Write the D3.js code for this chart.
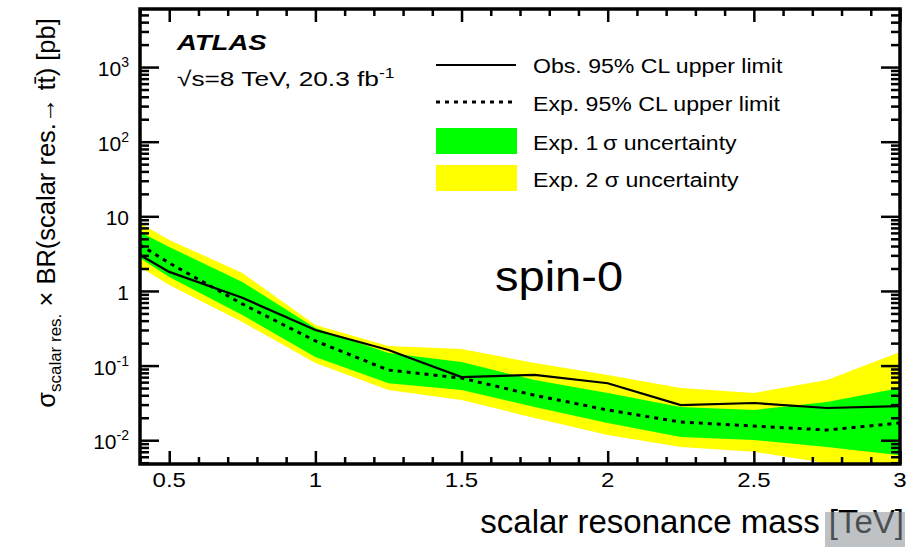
<!DOCTYPE html>
<html>
  <head>
    <meta charset="utf-8">
    <title>ATLAS spin-0 limit</title>
    <script src="https://cdnjs.cloudflare.com/ajax/libs/d3/7.8.5/d3.min.js"></script>
    <style>
      body { margin: 0; background: #fff; }
      text { font-family: "Liberation Sans", Arial, sans-serif; fill: #000; }
    </style>
  </head>
  <body>
    <script>
      // resonance mass points [TeV]
      var mass = [0.4, 0.5, 0.75, 1.0, 1.25, 1.5, 1.75, 2.0, 2.25, 2.5, 2.75, 3.0];
      // 95% CL upper limits [pb]
      var obsLimit = [3.04, 1.80, 0.81, 0.30, 0.162, 0.070, 0.075, 0.058, 0.0296, 0.0315, 0.027, 0.0287];
      var expLimit = [4.14, 2.37, 0.67, 0.214, 0.087, 0.068, 0.040, 0.0254, 0.0175, 0.0155, 0.0137, 0.017];
      // expected bands
      var exp1Up   = [6.18, 3.89, 1.32, 0.319, 0.148, 0.112, 0.064, 0.043, 0.0279, 0.0254, 0.0325, 0.050];
      var exp1Down = [2.77, 1.54, 0.477, 0.130, 0.058, 0.047, 0.0279, 0.017, 0.011, 0.0101, 0.0081, 0.0063];
      var exp2Up   = [8.16, 4.83, 1.74, 0.35, 0.183, 0.167, 0.108, 0.075, 0.050, 0.043, 0.064, 0.152];
      var exp2Down = [2.10, 1.20, 0.384, 0.108, 0.047, 0.0346, 0.0199, 0.0117, 0.0081, 0.0070, 0.0049, 0.0034];

      var xMajor = [0.5, 1, 1.5, 2, 2.5, 3];
      var xMajorLabels = ["0.5", "1", "1.5", "2", "2.5", "3"];
      var yMajor = [0.01, 0.1, 1, 10, 100, 1000];
      var yMajorLabels = [["10", "-2"], ["10", "-1"], ["1", ""], ["10", ""], ["10", "2"], ["10", "3"]];

      var legendItems = [
        {label: "Obs. 95% CL upper limit", kind: "obs"},
        {label: "Exp. 95% CL upper limit", kind: "exp"},
        {label: "Exp. 1\u2009\u03c3 uncertainty", kind: "band1"},
        {label: "Exp. 2 \u03c3 uncertainty", kind: "band2"}
      ];

      var W = 914, H = 547;
      var L = 140, R = 900, T = 9, B = 464;

      var svg = d3.select("body").append("svg")
        .attr("width", W)
        .attr("height", H);

      var x = d3.scaleLinear().domain([0.4, 3]).range([L, R]);
      var y = d3.scaleLog().domain([0.0048, 6000]).range([B, T]);

      svg.append("clipPath").attr("id", "plotclip")
        .append("rect").attr("x", L).attr("y", T).attr("width", R - L).attr("height", B - T);

      var idx = d3.range(mass.length);
      var plot = svg.append("g").attr("clip-path", "url(#plotclip)");

      function band(up, down){
        return d3.area()
          .x(function (i){ return x(mass[i]); })
          .y0(function (i){ return y(down[i]); })
          .y1(function (i){ return y(up[i]); })(idx);
      }

      plot.append("path").attr("d", band(exp2Up, exp2Down)).attr("fill", "#ffff00");
      plot.append("path").attr("d", band(exp1Up, exp1Down)).attr("fill", "#00ff00");

      function curve(vals){
        return d3.line()
          .x(function (i){ return x(mass[i]); })
          .y(function (i){ return y(vals[i]); })(idx);
      }

      plot.append("path").attr("d", curve(expLimit))
        .attr("fill", "none").attr("stroke", "#000")
        .attr("stroke-width", 3).attr("stroke-dasharray", "4,5");
      plot.append("path").attr("d", curve(obsLimit))
        .attr("fill", "none").attr("stroke", "#000").attr("stroke-width", 2.2);

      // minor tick values
      var xMinor = d3.range(4, 31).map(function (d){ return d / 10; })
        .filter(function (d){ return xMajor.indexOf(d) < 0; });
      var yMinor = [];
      for (var e = -3; e <= 3; e++) {
        for (var k = 2; k <= 9; k++) {
          var v = k * Math.pow(10, e);
          if (v > 0.0048 && v < 6000) yMinor.push(v);
        }
      }

      function addAxis(axis, tx, ty){
        var g = svg.append("g").attr("transform", "translate(" + tx + "," + ty + ")").call(axis);
        g.selectAll("path.domain").remove();
        g.selectAll("line").attr("stroke", "#000").attr("stroke-width", 2.5);
        g.selectAll("text").remove();
        return g;
      }

      // ticks pointing inward on all four sides
      addAxis(d3.axisTop(x).tickValues(xMajor).tickSize(13), 0, B);
      addAxis(d3.axisTop(x).tickValues(xMinor).tickSize(7), 0, B);
      addAxis(d3.axisBottom(x).tickValues(xMajor).tickSize(13), 0, T);
      addAxis(d3.axisBottom(x).tickValues(xMinor).tickSize(7), 0, T);
      addAxis(d3.axisRight(y).tickValues(yMajor).tickSize(19), L, 0);
      addAxis(d3.axisRight(y).tickValues(yMinor).tickSize(9), L, 0);
      addAxis(d3.axisLeft(y).tickValues(yMajor).tickSize(19), R, 0);
      addAxis(d3.axisLeft(y).tickValues(yMinor).tickSize(9), R, 0);

      svg.append("rect")
        .attr("x", L).attr("y", T).attr("width", R - L).attr("height", B - T)
        .attr("fill", "none").attr("stroke", "#000").attr("stroke-width", 3.5);

      // the picture is a little wider than the original, so text is stretched
      function wideText(px, py, sx, size){
        return svg.append("text")
          .attr("transform", "translate(" + px + "," + py + ") scale(" + sx + ",1)")
          .style("font-size", size + "px");
      }

      // tick labels
      xMajor.forEach(function (d, i){
        wideText(x(d), 487, 1.2, 20)
          .attr("text-anchor", "middle")
          .text(xMajorLabels[i]);
      });

      var ylab = svg.selectAll("text.ylab").data(yMajor).enter().append("text")
        .attr("class", "ylab")
        .attr("x", 129)
        .attr("y", function (d){ return y(d) + 9; })
        .attr("text-anchor", "end")
        .style("font-size", "21px");
      ylab.append("tspan").text(function (d, i){ return yMajorLabels[i][0]; });
      ylab.append("tspan")
        .attr("dy", -9)
        .style("font-size", "14px")
        .text(function (d, i){ return yMajorLabels[i][1]; });

      // axis titles
      var yt = svg.append("text")
        .attr("transform", "translate(55,213) rotate(-90)")
        .attr("text-anchor", "middle")
        .style("font-size", "25.5px");
      yt.append("tspan").text("\u03c3");
      yt.append("tspan").attr("dy", 6).style("font-size", "17px").text("scalar res.");
      yt.append("tspan").attr("dy", -6).text(" \u00d7 BR(scalar res.\u2192 t");
      yt.append("tspan").text("t\u0304");
      yt.append("tspan").text(") [pb]");

      svg.append("text")
        .attr("x", 904).attr("y", 533)
        .attr("text-anchor", "end")
        .style("font-size", "33px")
        .text("scalar resonance mass [TeV]");

      // grey overlay icon over the unit
      svg.append("rect")
        .attr("x", 825).attr("y", 512).attr("width", 80).attr("height", 35)
        .attr("fill", "#8a8f96").attr("opacity", 0.55);

      // ATLAS label
      wideText(177, 50, 1.25, 22)
        .style("font-weight", "bold").style("font-style", "italic")
        .text("ATLAS");
      var lumi = wideText(177, 86, 1.25, 21);
      lumi.append("tspan").text("\u221as=8 TeV, 20.3 fb");
      lumi.append("tspan").attr("dy", -8).style("font-size", "14px").text("-1");

      // legend
      var legSymY = [65, 102, 141, 178];
      var legTextY = [73, 111, 150, 187];
      legendItems.forEach(function (d, i){
        var g = svg.append("g").attr("transform", "translate(0," + legSymY[i] + ")");
        if (d.kind === "obs") {
          g.append("line").attr("x1", 436).attr("x2", 516).attr("y1", 0).attr("y2", 0)
            .attr("stroke", "#000").attr("stroke-width", 2.2);
        } else if (d.kind === "exp") {
          g.append("line").attr("x1", 436).attr("x2", 516).attr("y1", 0).attr("y2", 0)
            .attr("stroke", "#000").attr("stroke-width", 3).attr("stroke-dasharray", "4,5");
        } else {
          g.append("rect").attr("x", 436).attr("y", -13).attr("width", 81).attr("height", 26)
            .attr("fill", d.kind === "band1" ? "#00ff00" : "#ffff00");
        }
        wideText(533, legTextY[i], 1.1, 21).text(d.label);
      });

      wideText(495, 291, 1.12, 42).text("spin-0");
    </script>
  </body>
</html>
